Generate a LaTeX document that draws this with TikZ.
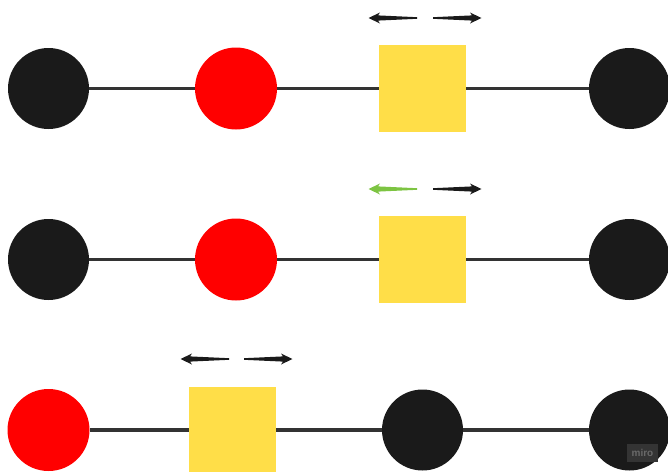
\documentclass[tikz,border=0pt]{standalone}
\usepackage{fontspec}
\setmainfont{Liberation Sans}
\definecolor{dark}{RGB}{26,26,26}
\definecolor{linegray}{RGB}{51,51,51}
\definecolor{redc}{RGB}{255,0,0}
\definecolor{yellowc}{RGB}{255,222,72}
\definecolor{greenc}{RGB}{125,196,66}
\definecolor{wmbg}{RGB}{52,52,52}
\definecolor{wmtext}{RGB}{105,105,105}
\tikzset{
  blackdot/.style={circle, fill=dark, minimum size=81pt, inner sep=0pt},
  reddot/.style={circle, fill=redc, minimum size=82pt, inner sep=0pt},
  yellowsq/.style={rectangle, fill=yellowc, minimum width=87pt, minimum height=87pt, inner sep=0pt},
  link/.style={draw=linegray, line width=3.2pt},
  pics/tarrow/.style={code={
    \fill[pic actions] (0,-0.8) -- (39,-2.6) -- (37,-5.5) -- (48.5,0) -- (37,5.5) -- (39,2.6) -- (0,0.8) -- cycle;
  }}
}
\begin{document}
\begin{tikzpicture}[x=1pt,y=-1pt]
\useasboundingbox (0,0) rectangle (668,471);
% Row 1
\node[blackdot] (a1) at (48.5,88.5) {};
\node[reddot] (b1) at (236,88.5) {};
\node[yellowsq] (s1) at (422.5,88.5) {};
\node[blackdot] (d1) at (629.5,88.5) {};
% Row 2
\node[blackdot] (a2) at (48.5,259.5) {};
\node[reddot] (b2) at (236,259.5) {};
\node[yellowsq] (s2) at (422.5,259.5) {};
\node[blackdot] (d2) at (629.5,259.5) {};
% Row 3
\node[reddot] (a3) at (48.5,430) {};
\node[yellowsq] (s3) at (232.5,430) {};
\node[blackdot] (c3) at (422.5,430) {};
\node[blackdot] (d3) at (629.5,430) {};
% links
\draw[link] (a1) -- (b1);
\draw[link] (b1) -- (s1);
\draw[link] (s1) -- (d1);
\draw[link] (a2) -- (b2);
\draw[link] (b2) -- (s2);
\draw[link] (s2) -- (d2);
\draw[link] (a3) -- (s3);
\draw[link] (s3) -- (c3);
\draw[link] (c3) -- (d3);
% arrows
\coordinate (l1) at (417,18);
\coordinate (r1) at (433,18);
\coordinate (l2) at (417,189);
\coordinate (r2) at (433,189);
\coordinate (l3) at (229,359);
\coordinate (r3) at (244,359);
\pic[fill=dark, rotate=180] at (l1) {tarrow};
\pic[fill=dark] at (r1) {tarrow};
\pic[fill=greenc, rotate=180] at (l2) {tarrow};
\pic[fill=dark] at (r2) {tarrow};
\pic[fill=dark, rotate=180] at (l3) {tarrow};
\pic[fill=dark] at (r3) {tarrow};
% watermark
\node[fill=wmbg, text=wmtext, minimum width=31pt, minimum height=18pt, inner sep=0pt,
      font=\fontsize{10}{10}\selectfont\bfseries] (wm) at (642.5,453) {miro};
\end{tikzpicture}
\end{document}
